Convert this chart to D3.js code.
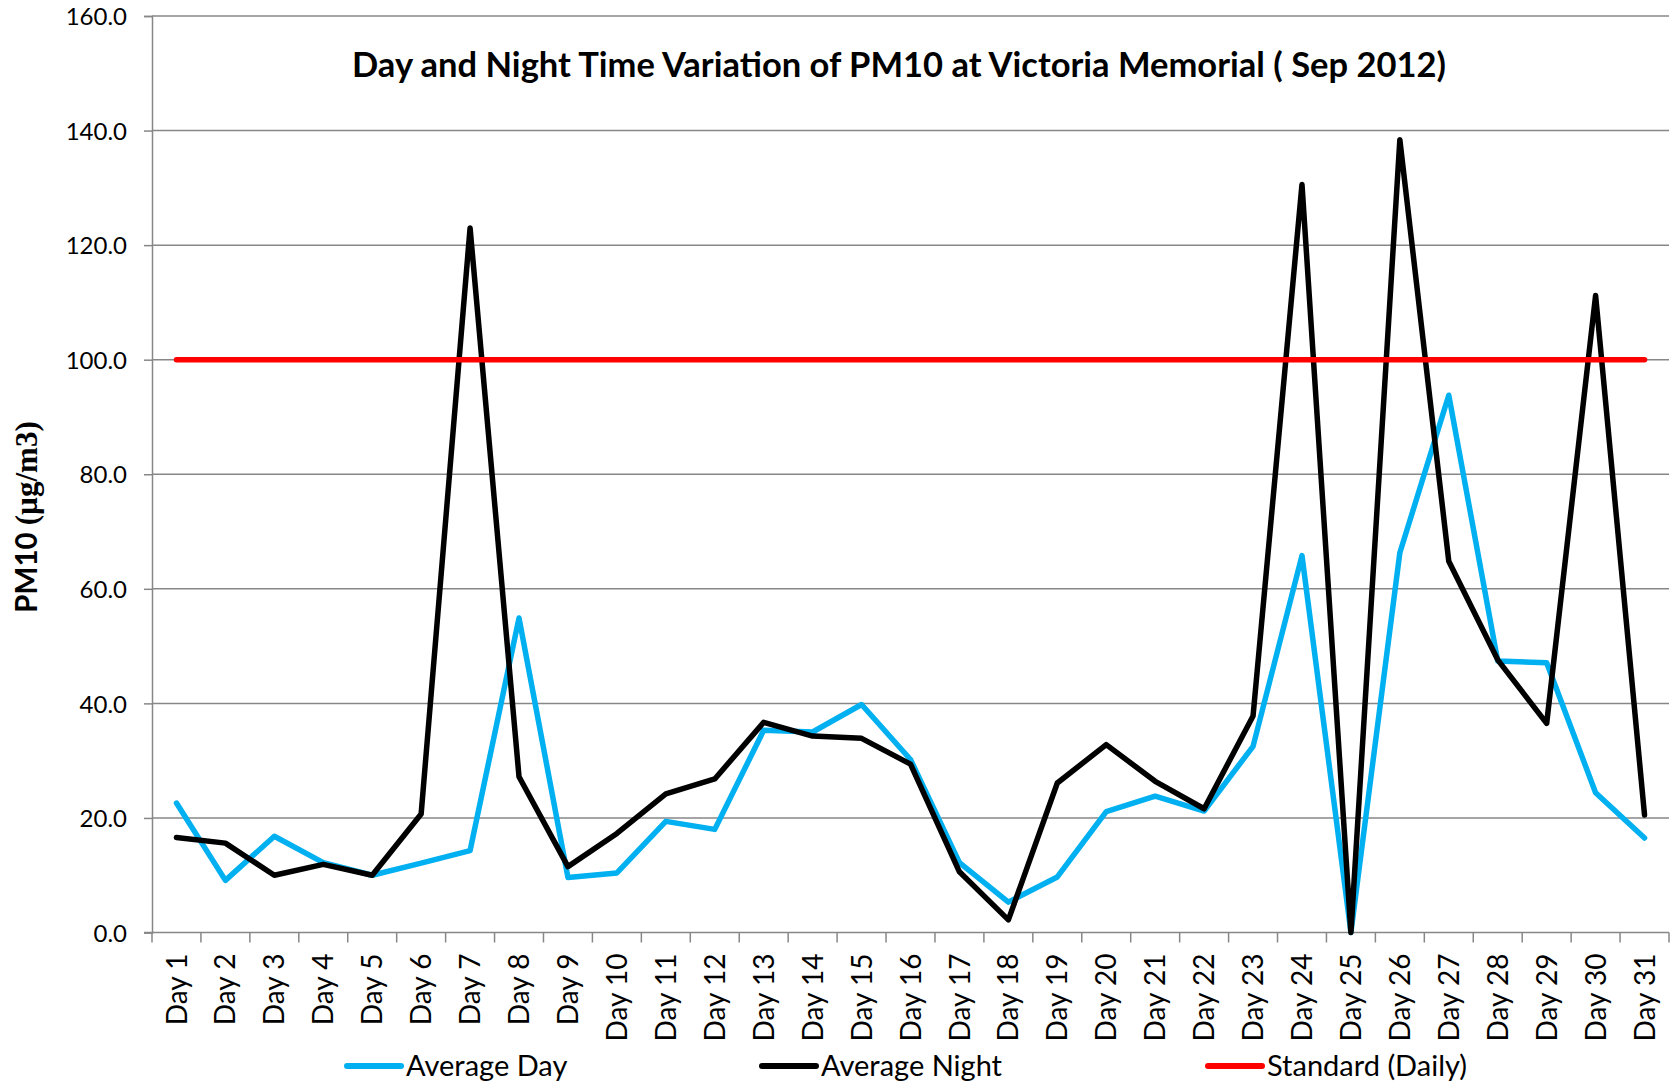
<!DOCTYPE html>
<html>
<head>
<meta charset="utf-8">
<script src="https://cdn.jsdelivr.net/npm/d3@7"></script>
<style>
    body { margin: 0; background: #fff; }
    text { font-family: Lato, "Open Sans", sans-serif; fill: #000; }
</style>
</head>
<body>
<div id="chart"></div>
<script>
    // Data
    const days = ["Day 1", "Day 2", "Day 3", "Day 4", "Day 5", "Day 6", "Day 7", "Day 8", "Day 9", "Day 10",
        "Day 11", "Day 12", "Day 13", "Day 14", "Day 15", "Day 16", "Day 17", "Day 18", "Day 19", "Day 20",
        "Day 21", "Day 22", "Day 23", "Day 24", "Day 25", "Day 26", "Day 27", "Day 28", "Day 29", "Day 30", "Day 31"];

    const averageDay = [22.6, 9.1, 16.8, 12.2, 10.0, 12.1, 14.3, 54.9, 9.6, 10.4,
        19.4, 18.0, 35.3, 35.0, 39.8, 30.2, 12.2, 5.3, 9.7, 21.1,
        23.8, 21.2, 32.5, 65.8, 0.0, 66.3, 93.8, 47.4, 47.1, 24.4, 16.5];

    const averageNight = [16.6, 15.6, 10.0, 11.9, 10.0, 20.7, 123.0, 27.2, 11.5, 17.3,
        24.2, 26.8, 36.7, 34.3, 33.9, 29.4, 10.6, 2.2, 26.1, 32.8,
        26.4, 21.6, 37.8, 130.6, 0.0, 138.4, 64.8, 47.6, 36.5, 111.2, 20.5];

    const standardDaily = days.map(function () { return 100.0; });

    const yTicks = [0, 20, 40, 60, 80, 100, 120, 140, 160];

    const seriesNames = ["Average Day", "Average Night", "Standard (Daily)"];
    const seriesColors = ["#00B0F0", "#000000", "#FF0000"];

    const width = 1673;
    const height = 1085;
    const margin = { left: 152, right: 4, top: 16, bottom: 152.5 };

    const svg = d3.select("#chart").append("svg")
        .attr("width", width)
        .attr("height", height);

    const x = d3.scaleBand()
        .domain(days)
        .range([margin.left, width - margin.right])
        .padding(0);

    const y = d3.scaleLinear()
        .domain([0, 160])
        .range([height - margin.bottom, margin.top]);

    const cx = function (d) { return x(d) + x.bandwidth() / 2; };

    // gridlines
    svg.append("g")
        .selectAll("line")
        .data(yTicks.filter(function (d) { return d > 0; }))
        .enter().append("line")
        .attr("x1", margin.left)
        .attr("x2", width - margin.right)
        .attr("y1", function (d) { return y(d); })
        .attr("y2", function (d) { return y(d); })
        .attr("stroke", "#878787")
        .attr("stroke-width", 1.5);

    // y axis
    const yAxis = svg.append("g")
        .attr("transform", "translate(" + margin.left + ",0)")
        .call(d3.axisLeft(y).tickValues(yTicks).tickFormat(d3.format(".1f")).tickSize(8).tickPadding(17));
    yAxis.select(".domain").attr("stroke", "#878787").attr("stroke-width", 1.5);
    yAxis.selectAll(".tick line").attr("stroke", "#878787").attr("stroke-width", 1.5);
    yAxis.selectAll(".tick text")
        .style("font-family", "Lato, sans-serif")
        .style("font-size", "24px")
        .attr("dy", "0.36em");

    // x axis, labels at category centres, tick marks between categories
    const baseY = y(0);
    const xAxis = svg.append("g")
        .attr("transform", "translate(0," + baseY + ")")
        .call(d3.axisBottom(x).tickSize(0));
    xAxis.select(".domain").remove();
    xAxis.selectAll(".tick text")
        .style("font-family", "Lato, sans-serif")
        .style("font-size", "28px")
        .attr("transform", "rotate(-90)")
        .attr("text-anchor", "end")
        .attr("x", -21)
        .attr("y", 0)
        .attr("dy", "0.36em");

    svg.append("line")
        .attr("x1", margin.left - 8)
        .attr("x2", width - margin.right)
        .attr("y1", baseY)
        .attr("y2", baseY)
        .attr("stroke", "#878787")
        .attr("stroke-width", 1.5);

    svg.append("g")
        .selectAll("line")
        .data(days.map(function (d) { return x(d); }).concat([x.range()[1]]))
        .enter().append("line")
        .attr("x1", function (d) { return d; })
        .attr("x2", function (d) { return d; })
        .attr("y1", baseY)
        .attr("y2", baseY + 10)
        .attr("stroke", "#878787")
        .attr("stroke-width", 1.5);

    // lines
    const line = d3.line()
        .x(function (d) { return cx(d.day); })
        .y(function (d) { return y(d.value); });

    const allSeries = [averageDay, averageNight, standardDaily];

    svg.append("g")
        .selectAll("path")
        .data(allSeries)
        .enter().append("path")
        .attr("d", function (values) {
            return line(values.map(function (v, i) { return { day: days[i], value: v }; }));
        })
        .attr("fill", "none")
        .attr("stroke", function (d, i) { return seriesColors[i]; })
        .attr("stroke-width", 5.5)
        .attr("stroke-linejoin", "round")
        .attr("stroke-linecap", "round");

    // title
    svg.append("text")
        .attr("x", 899)
        .attr("y", 77)
        .attr("text-anchor", "middle")
        .style("font-weight", "bold")
        .style("font-size", "34.5px")
        .text("Day and Night Time Variation of PM10 at Victoria Memorial ( Sep 2012)");

    // y axis title, "(µg/m3)" is set in a serif face in the original
    const yTitle = svg.append("text")
        .attr("transform", "translate(37,517) rotate(-90)")
        .attr("text-anchor", "middle")
        .style("font-weight", "bold")
        .style("font-size", "29.5px");
    yTitle.append("tspan").text("PM10 ");
    yTitle.append("tspan")
        .style("font-family", "'Liberation Serif', 'DejaVu Serif', serif")
        .style("font-size", "31px")
        .text("(µg/m3)");

    // legend
    const legendX = [347, 762, 1208];
    const legend = svg.append("g")
        .selectAll("g")
        .data(seriesNames)
        .enter().append("g")
        .attr("transform", function (d, i) { return "translate(" + legendX[i] + ",1066)"; });

    legend.append("line")
        .attr("x1", 0)
        .attr("x2", 54)
        .attr("stroke", function (d, i) { return seriesColors[i]; })
        .attr("stroke-width", 6)
        .attr("stroke-linecap", "round");

    legend.append("text")
        .attr("x", 59)
        .attr("y", 9.5)
        .style("font-size", "29px")
        .text(function (d) { return d; });
</script>
</body>
</html>
